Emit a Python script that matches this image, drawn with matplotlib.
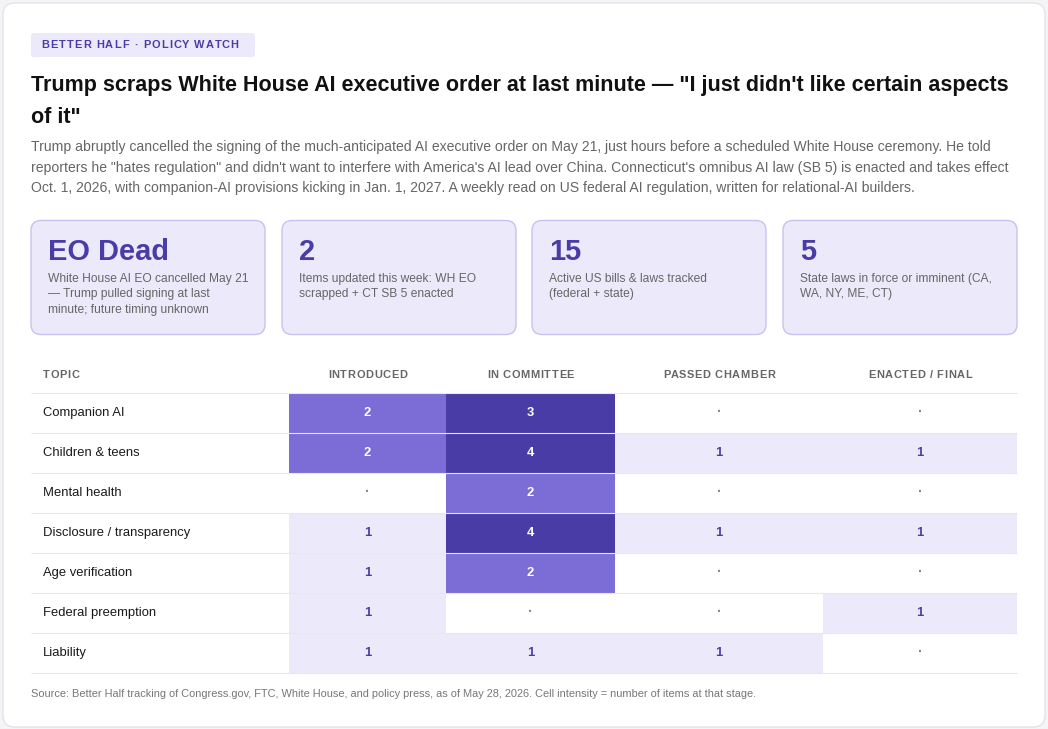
import numpy as np
import matplotlib
matplotlib.use("Agg")
import matplotlib.pyplot as plt
from matplotlib.patches import FancyBboxPatch
from matplotlib.colors import ListedColormap, BoundaryNorm

# ---- data ----
badge = "BETTER HALF · POLICY WATCH"
title_lines = ['Trump scraps White House AI executive order at last minute — "I just didn\'t like certain aspects',
               'of it"']
sub_lines = ['Trump abruptly cancelled the signing of the much-anticipated AI executive order on May 21, just hours before a scheduled White House ceremony. He told',
             'reporters he "hates regulation" and didn\'t want to interfere with America\'s AI lead over China. Connecticut\'s omnibus AI law (SB 5) is enacted and takes effect',
             'Oct. 1, 2026, with companion-AI provisions kicking in Jan. 1, 2027. A weekly read on US federal AI regulation, written for relational-AI builders.']

kpi_values = ["EO Dead", "2", "15", "5"]
kpi_labels = [["White House AI EO cancelled May 21", "— Trump pulled signing at last", "minute; future timing unknown"],
              ["Items updated this week: WH EO", "scrapped + CT SB 5 enacted"],
              ["Active US bills & laws tracked", "(federal + state)"],
              ["State laws in force or imminent (CA,", "WA, NY, ME, CT)"]]

topics = ["Companion AI", "Children & teens", "Mental health", "Disclosure / transparency",
          "Age verification", "Federal preemption", "Liability"]
stages = ["INTRODUCED", "IN COMMITTEE", "PASSED CHAMBER", "ENACTED / FINAL"]
counts = np.array([
    [2, 3, 0, 0],
    [2, 4, 1, 1],
    [0, 2, 0, 0],
    [1, 4, 1, 1],
    [1, 2, 0, 0],
    [1, 0, 0, 1],
    [1, 1, 1, 0],
])
source = ("Source: Better Half tracking of Congress.gov, FTC, White House, and policy press, "
          "as of May 28, 2026. Cell intensity = number of items at that stage.")

# ---- style ----
PURPLE = "#4a3ca6"
MID = "#7b6cd6"
LIGHT = "#ece9fa"
GRAY = "#666666"
plt.rcParams['font.family'] = ['Liberation Sans', 'DejaVu Sans']

W, H = 1048, 729
fig = plt.figure(figsize=(W / 100, H / 100), dpi=100)
fig.patch.set_facecolor("#f4f4f6")
ax = fig.add_axes([0, 0, 1, 1])
ax.set_xlim(0, W)
ax.set_ylim(H, 0)
ax.axis("off")
renderer = fig.canvas.get_renderer()


def px(size):
    return size * 0.72


def tracked(x, y, s, size, color, spacing, ha="left", weight="bold"):
    # letter-spaced caps text, y is the visual centre of the caps
    def width(t):
        tt = ax.text(0, 0, t + "x", fontsize=px(size), weight=weight)
        w = tt.get_window_extent(renderer).width
        tt.remove()
        return w
    wx = width("")
    offs = [width(s[:i]) - wx + i * spacing for i in range(len(s))]
    total = width(s) - wx + (len(s) - 1) * spacing
    if ha == "center":
        x = x - total / 2
    base = y + 0.36 * size
    for ch, o in zip(s, offs):
        ax.text(x + o, base, ch, fontsize=px(size), color=color, weight=weight,
                va="baseline", ha="left")


# outer card
ax.add_patch(FancyBboxPatch((3, 3), 1042, 724, boxstyle="round,pad=0,rounding_size=12",
                            fc="white", ec="#e4e4e8", lw=1))

# badge
ax.add_patch(FancyBboxPatch((31, 33), 224, 24, boxstyle="round,pad=0,rounding_size=3",
                            fc=LIGHT, ec="none"))
tracked(41, 44.5, badge, 11, PURPLE, 1.1)

# title + subtitle
for i, line in enumerate(title_lines):
    ax.text(31, 85 + i * 32, line, fontsize=px(21.55), weight="bold", color="#111111", va="center")
for i, line in enumerate(sub_lines):
    ax.text(31, 147 + i * 20.5, line, fontsize=px(14), color=GRAY, va="center")

# KPI cards
card_x = [31, 282, 532, 783]
for x0, val, lab in zip(card_x, kpi_values, kpi_labels):
    ax.add_patch(FancyBboxPatch((x0, 220.5), 234, 114, boxstyle="round,pad=0,rounding_size=10",
                                fc="#ece9fb", ec="#c9c2ee", lw=1))
    ax.text(x0 + 17, 251.5, val, fontsize=px(29), weight="bold", color=PURPLE, va="center")
    for j, l in enumerate(lab):
        ax.text(x0 + 17, 278.5 + j * 15.5, l, fontsize=px(12), color=GRAY, va="center")

# table
col_edges = [289, 446, 615, 823, 1017]
row_edges = [393 + 40 * i for i in range(len(topics) + 1)]
cmap = ListedColormap(["white", LIGHT, MID, PURPLE])
norm = BoundaryNorm([-0.5, 0.5, 1.5, 2.5, 10], cmap.N)
ax.pcolormesh(col_edges, row_edges, counts, cmap=cmap, norm=norm, shading="flat",
              antialiased=False, zorder=1)

tracked(43, 374, "TOPIC", 11, GRAY, 0.6)
for k, st in enumerate(stages):
    cx = (col_edges[k] + col_edges[k + 1]) / 2
    tracked(cx, 374, st, 11, GRAY, 0.6, ha="center")

for r, tp in enumerate(topics):
    cy = (row_edges[r] + row_edges[r + 1]) / 2
    ax.text(43, cy, tp, fontsize=px(13), color="#1a1a1a", va="center")
    for k in range(len(stages)):
        cx = (col_edges[k] + col_edges[k + 1]) / 2
        v = counts[r, k]
        if v == 0:
            ax.text(cx, cy - 1, "·", fontsize=px(14), color="#888888", va="center", ha="center", weight="bold")
        elif v == 1:
            ax.text(cx, cy, str(v), fontsize=px(13), color=PURPLE, va="center", ha="center", weight="bold")
        else:
            ax.text(cx, cy, str(v), fontsize=px(13), color="white", va="center", ha="center", weight="bold")

for y in row_edges:
    ax.plot([31, 1017], [y, y], color="#e8e8ec", lw=0.8, zorder=2,
            solid_capstyle="butt")

ax.text(31, 694, source, fontsize=px(11), color="#777777", va="center")

fig.savefig("out.png", dpi=100, facecolor=fig.get_facecolor())
